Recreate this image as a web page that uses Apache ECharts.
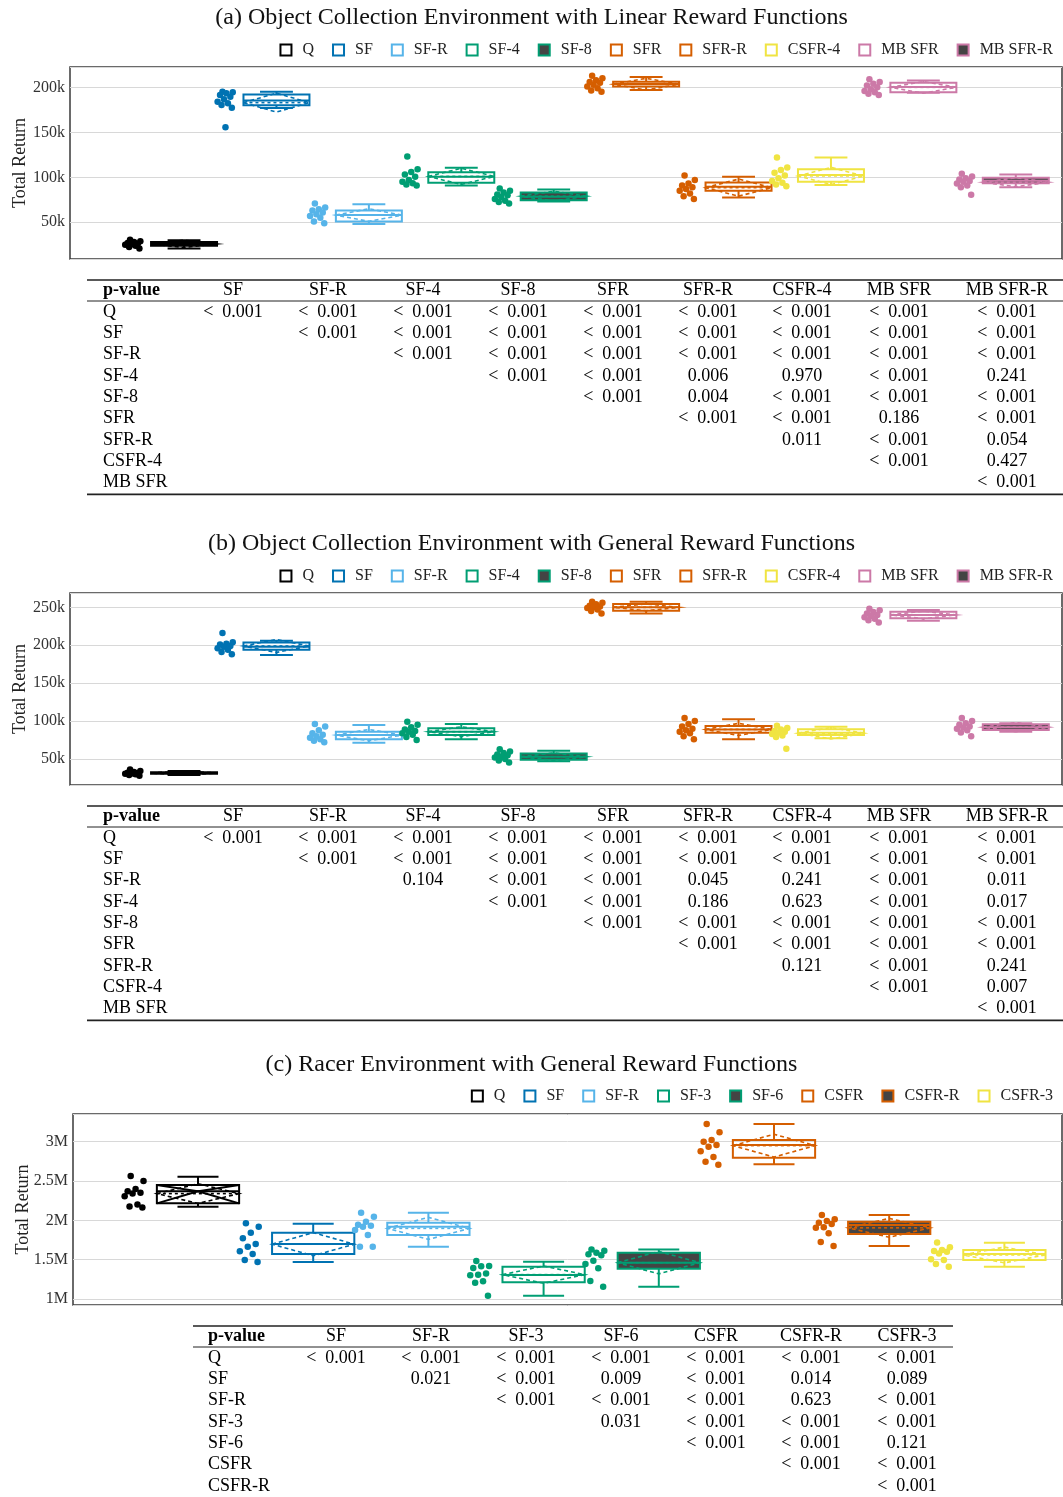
<!DOCTYPE html>
<html><head><meta charset="utf-8">
<script src="https://cdn.jsdelivr.net/npm/echarts@6/dist/echarts.min.js"></script>
<style>html,body{margin:0;padding:0;background:#fff}#c{width:1063px;height:1497px}</style>
</head><body><div id="c"></div>
<script>
// ---------------- DATA ----------------
const titleA = '(a) Object Collection Environment with Linear Reward Functions';
const titleB = '(b) Object Collection Environment with General Reward Functions';
const titleC = '(c) Racer Environment with General Reward Functions';

const catsA = ['Q','SF','SF-R','SF-4','SF-8','SFR','SFR-R','CSFR-4','MB SFR','MB SFR-R'];
const catsB = ['Q','SF','SF-R','SF-4','SF-8','SFR','SFR-R','CSFR-4','MB SFR','MB SFR-R'];
const catsC = ['Q','SF','SF-R','SF-3','SF-6','CSFR','CSFR-R','CSFR-3'];

// box stats: [min, q1, median, q3, max, mean, sd]
const statsA = [
  [21000, 24000, 26000, 28000, 30000, 26000, 4000],
  [177000, 180000, 185500, 192000, 195000, 183000, 10500],
  [48000, 51000, 58000, 63000, 70000, 58000, 7000],
  [91000, 94000, 100500, 105500, 110500, 101000, 9000],
  [73000, 74500, 78500, 83000, 86500, 79000, 5500],
  [197000, 201000, 203700, 206300, 211500, 203500, 6500],
  [77500, 85000, 89500, 94300, 100500, 88500, 9500],
  [91500, 95000, 102500, 109000, 122000, 101500, 9500],
  [194000, 194500, 200500, 205000, 207500, 200000, 6500],
  [89000, 93500, 96300, 99600, 103000, 94500, 5000]
];
const statsB = [
  [29000, 30500, 31500, 32500, 34000, 31500, 2500],
  [187000, 194000, 198000, 203500, 206000, 199000, 8500],
  [71500, 76000, 81500, 86000, 94800, 81500, 7500],
  [76000, 81600, 86000, 90400, 96000, 86000, 6500],
  [47000, 49000, 53000, 57400, 61000, 53000, 5000],
  [242000, 245600, 250000, 254400, 257500, 250000, 4500],
  [76000, 84700, 89000, 93500, 102300, 89000, 8000],
  [77200, 81600, 84700, 89100, 92600, 84000, 7500],
  [232400, 235500, 240000, 244300, 246500, 240000, 5000],
  [86000, 88200, 91700, 95700, 97000, 92000, 6000]
];
const statsC = [
  [2174000, 2216000, 2370000, 2449000, 2555000, 2340000, 125000],
  [1470000, 1572000, 1700000, 1843000, 1958000, 1697000, 147000],
  [1665000, 1814000, 1920000, 1970000, 2098000, 1898000, 140000],
  [1042000, 1212000, 1305000, 1411000, 1475000, 1310000, 110000],
  [1157000, 1386000, 1462000, 1589000, 1631000, 1462000, 142000],
  [2712000, 2797000, 2958000, 3021000, 3225000, 2950000, 145000],
  [1674000, 1826000, 1940000, 1983000, 2068000, 1905000, 120000],
  [1411000, 1496000, 1572000, 1623000, 1716000, 1560000, 100000]
];

// individual runs
const pointsA = [
  [30500, 29000, 28000, 27000, 26500, 25500, 25000, 24000, 22500, 21000],
  [195200, 194400, 193300, 191500, 189600, 186700, 184100, 182200, 180400, 177400, 155600],
  [71000, 66500, 64500, 63000, 61000, 59000, 57000, 55000, 51000, 49000],
  [123000, 109000, 106000, 103000, 100500, 97000, 95000, 93500, 92000, 91000],
  [87500, 85000, 83000, 81000, 80000, 78000, 76000, 74000, 72500, 71000],
  [213000, 210000, 208000, 206000, 205000, 203000, 201000, 199000, 196500, 195000],
  [102000, 97000, 93000, 91000, 89000, 87000, 85000, 82000, 79000, 76000],
  [122000, 111000, 108000, 105000, 102000, 99000, 96000, 94000, 92000, 90000],
  [209000, 206000, 204000, 202000, 200000, 198000, 196000, 194500, 193000, 191500],
  [104000, 101000, 99000, 97500, 96000, 95000, 93000, 91000, 89000, 80500]
];
const pointsB = [
  [36000, 34000, 33000, 32000, 31500, 31000, 30500, 30000, 29000, 28000],
  [216000, 204000, 202000, 201000, 199000, 198000, 196000, 194000, 191000, 188000],
  [96000, 93000, 88000, 84000, 82000, 80000, 78000, 76000, 74000, 72000],
  [99000, 95000, 92000, 89000, 87000, 86000, 84000, 82000, 79000, 75000],
  [63000, 60000, 58000, 56000, 55000, 53000, 52000, 50000, 48000, 45500],
  [257500, 256000, 254000, 252000, 251000, 250000, 249000, 247000, 245000, 242000],
  [104000, 100000, 96000, 93000, 90000, 88000, 86000, 84000, 80000, 76000],
  [94000, 91000, 89000, 87000, 86000, 85000, 83000, 81000, 79000, 63500],
  [248000, 246000, 244000, 242000, 240000, 238500, 237000, 235000, 233000, 230000],
  [104000, 100000, 97000, 95000, 93000, 91500, 90000, 88000, 85000, 80000]
];
const pointsC = [
  [2564000, 2500000, 2400000, 2370000, 2350000, 2340000, 2305000, 2200000, 2175000, 2165000],
  [1962000, 1920000, 1843000, 1771000, 1700000, 1665000, 1606000, 1572000, 1496000, 1470000],
  [2098000, 2047000, 1983000, 1945000, 1930000, 1920000, 1877000, 1814000, 1665000, 1665000],
  [1483000, 1420000, 1418000, 1394000, 1326000, 1310000, 1301000, 1225000, 1208000, 1042000],
  [1631000, 1614000, 1589000, 1570000, 1555000, 1487000, 1445000, 1390000, 1229000, 1157000],
  [3225000, 3119000, 3021000, 3000000, 2958000, 2936000, 2877000, 2805000, 2746000, 2708000],
  [2068000, 2013000, 1992000, 1970000, 1955000, 1911000, 1905000, 1835000, 1725000, 1674000],
  [1720000, 1657000, 1623000, 1610000, 1600000, 1580000, 1504000, 1496000, 1445000, 1411000]
];

// p-value tables
const LT = '<  0.001';
const tColsA = ['SF','SF-R','SF-4','SF-8','SFR','SFR-R','CSFR-4','MB SFR','MB SFR-R'];
const tRowsA = ['Q','SF','SF-R','SF-4','SF-8','SFR','SFR-R','CSFR-4','MB SFR'];
const tValsA = [
  [LT, LT, LT, LT, LT, LT, LT, LT, LT],
  ['', LT, LT, LT, LT, LT, LT, LT, LT],
  ['', '', LT, LT, LT, LT, LT, LT, LT],
  ['', '', '', LT, LT, '0.006', '0.970', LT, '0.241'],
  ['', '', '', '', LT, '0.004', LT, LT, LT],
  ['', '', '', '', '', LT, LT, '0.186', LT],
  ['', '', '', '', '', '', '0.011', LT, '0.054'],
  ['', '', '', '', '', '', '', LT, '0.427'],
  ['', '', '', '', '', '', '', '', LT]
];
const tColsB = ['SF','SF-R','SF-4','SF-8','SFR','SFR-R','CSFR-4','MB SFR','MB SFR-R'];
const tRowsB = ['Q','SF','SF-R','SF-4','SF-8','SFR','SFR-R','CSFR-4','MB SFR'];
const tValsB = [
  [LT, LT, LT, LT, LT, LT, LT, LT, LT],
  ['', LT, LT, LT, LT, LT, LT, LT, LT],
  ['', '', '0.104', LT, LT, '0.045', '0.241', LT, '0.011'],
  ['', '', '', LT, LT, '0.186', '0.623', LT, '0.017'],
  ['', '', '', '', LT, LT, LT, LT, LT],
  ['', '', '', '', '', LT, LT, LT, LT],
  ['', '', '', '', '', '', '0.121', LT, '0.241'],
  ['', '', '', '', '', '', '', LT, '0.007'],
  ['', '', '', '', '', '', '', '', LT]
];
const tColsC = ['SF','SF-R','SF-3','SF-6','CSFR','CSFR-R','CSFR-3'];
const tRowsC = ['Q','SF','SF-R','SF-3','SF-6','CSFR','CSFR-R'];
const tValsC = [
  [LT, LT, LT, LT, LT, LT, LT],
  ['', '0.021', LT, '0.009', LT, '0.014', '0.089'],
  ['', '', LT, LT, LT, '0.623', LT],
  ['', '', '', '0.031', LT, LT, LT],
  ['', '', '', '', LT, LT, '0.121'],
  ['', '', '', '', '', LT, LT],
  ['', '', '', '', '', '', LT]
];

// ---------------- STYLE / LAYOUT ----------------
const SERIF = '"Liberation Serif", "Times New Roman", serif';
const COLORS = {'Q':'#000000','SF':'#0072B2','SF-R':'#56B4E9','SF-4':'#009E73','SF-8':'#009E73',
  'SF-3':'#009E73','SF-6':'#009E73','SFR':'#D55E00','SFR-R':'#D55E00','CSFR':'#D55E00',
  'CSFR-R':'#D55E00','CSFR-4':'#F0E442','CSFR-3':'#F0E442','MB SFR':'#CC79A7','MB SFR-R':'#CC79A7'};
const FILLED = ['SF-8','MB SFR-R','SF-6','CSFR-R'];
const DARK = '#444444';

const panels = [
  {cats: catsA, stats: statsA, pts: pointsA, title: titleA, titleTop: 6, legendTop: 37,
   grid: {left: 70, top: 67, width: 992, height: 192}, x: [-1.234, 9.5], y: [9200, 222600], notched: []},
  {cats: catsB, stats: statsB, pts: pointsB, title: titleB, titleTop: 532, legendTop: 563,
   grid: {left: 70, top: 593, width: 992, height: 192}, x: [-1.234, 9.5], y: [15700, 268900], notched: []},
  {cats: catsC, stats: statsC, pts: pointsC, title: titleC, titleTop: 1053, legendTop: 1083,
   grid: {left: 73, top: 1114, width: 989, height: 191}, x: [-1.085, 7.5], y: [924000, 3352000], notched: ['Q']}
];
const tables = [
  {cols: tColsA, rows: tRowsA, vals: tValsA, top: 280, x0: 87, x1: 1063, labelX: 103,
   colX: [233,328,423,518,613,708,802,899,1007], bottom: true},
  {cols: tColsB, rows: tRowsB, vals: tValsB, top: 806, x0: 87, x1: 1063, labelX: 103,
   colX: [233,328,423,518,613,708,802,899,1007], bottom: true},
  {cols: tColsC, rows: tRowsC, vals: tValsC, top: 1326, x0: 193, x1: 953, labelX: 208,
   colX: [336,431,526,621,716,811,907], bottom: false}
];

const HW = 0.357, CW = 0.178, PT_OFF = -0.55;
function jit(k) { const g = (k * 0.6180339887 + 0.31) % 1; return (g * 2 - 1) * 0.09; }

function makeBoxRenderer(color, fill, notched) {
  return function (params, api) {
    const x = api.value(0);
    const mn = api.value(1), q1 = api.value(2), md = api.value(3), q3 = api.value(4),
          mx = api.value(5), mean = api.value(6), sd = api.value(7);
    const P = (xv, yv) => api.coord([xv, yv]);
    const lw = 2;
    const ch = [];
    const line = (a, b, dash, w) => ({type: 'line', shape: {x1: a[0], y1: a[1], x2: b[0], y2: b[1]},
      style: {stroke: color, lineWidth: w || lw, lineDash: dash || null}});
    ch.push(line(P(x, q3), P(x, mx)));
    ch.push(line(P(x, q1), P(x, mn)));
    ch.push(line(P(x - CW, mx), P(x + CW, mx)));
    ch.push(line(P(x - CW, mn), P(x + CW, mn)));
    const bl = P(x - HW, q1), tr = P(x + HW, q3);
    ch.push({type: 'rect', shape: {x: bl[0], y: tr[1], width: tr[0] - bl[0], height: bl[1] - tr[1]},
      style: {fill: fill, stroke: color, lineWidth: lw}});
    if (notched) {
      ch.push({type: 'polyline', shape: {points: [P(x - HW, q3), P(x, md), P(x - HW, q1)]},
        style: {stroke: color, lineWidth: lw, fill: null}});
      ch.push({type: 'polyline', shape: {points: [P(x + HW, q3), P(x, md), P(x + HW, q1)]},
        style: {stroke: color, lineWidth: lw, fill: null}});
    }
    ch.push(line(P(x - HW, md), P(x + HW, md)));
    ch.push(line(P(x - HW, mean), P(x + HW, mean), [3, 3], 1.6));
    ch.push({type: 'polygon', shape: {points: [P(x - HW, mean), P(x, mean + sd), P(x + HW, mean), P(x, mean - sd)]},
      style: {fill: null, stroke: color, lineWidth: 1.6, lineDash: [4, 3]}});
    return {type: 'group', children: ch};
  };
}

function fmt(v) {
  if (v >= 1e6) return (v / 1e6) + 'M';
  return (v / 1e3) + 'k';
}

const grids = [], xAxes = [], yAxes = [], series = [], legends = [], titles = [];
panels.forEach((p, pi) => {
  grids.push(Object.assign({show: true, borderColor: '#3a3a3a', borderWidth: 1.5, backgroundColor: '#fff',
    containLabel: false, outerBoundsMode: 'none'}, p.grid));
  xAxes.push({type: 'value', gridIndex: pi, min: p.x[0], max: p.x[1], show: false, splitLine: {show: false}});
  yAxes.push({type: 'value', gridIndex: pi, min: p.y[0], max: p.y[1],
    name: 'Total Return', nameLocation: 'middle', nameGap: 41, nameRotate: 90, nameMoveOverlap: false,
    nameTextStyle: {fontFamily: SERIF, fontSize: 18, color: '#222'},
    axisLine: {show: false}, axisTick: {show: false},
    axisLabel: {fontFamily: SERIF, fontSize: 16, color: '#333', margin: 5, showMinLabel: false, showMaxLabel: false,
      formatter: v => ((p.y[0] < 1e6 ? v % 50000 === 0 : v % 500000 === 0) ? fmt(v) : '')},
    splitLine: {show: true, lineStyle: {color: '#d8d8d8', width: 1}}});
  titles.push({text: p.title, left: 'center', top: p.titleTop, padding: 0,
    textStyle: {fontFamily: SERIF, fontSize: 24, fontWeight: 'normal', color: '#111'}});
  legends.push({top: p.legendTop, right: 5, icon: 'rect', itemWidth: 11, itemHeight: 11, itemGap: 18,
    selectedMode: false,
    textStyle: {fontFamily: SERIF, fontSize: 16, color: '#222', padding: [0, 0, 0, 6]},
    data: p.cats.map(c => ({name: c, itemStyle: {color: FILLED.includes(c) ? DARK : '#fff',
      borderColor: COLORS[c], borderWidth: 2}}))});
  p.cats.forEach((c, i) => {
    const color = COLORS[c];
    const fill = FILLED.includes(c) ? DARK : 'rgba(255,255,255,0)';
    series.push({type: 'custom', name: c, xAxisIndex: pi, yAxisIndex: pi,
      itemStyle: {color: color},
      renderItem: makeBoxRenderer(color, fill, p.notched.includes(c)),
      encode: {x: 0, y: [1, 2, 3, 4, 5]},
      data: [[i].concat(p.stats[i])], z: 2, silent: true});
    series.push({type: 'scatter', name: c, xAxisIndex: pi, yAxisIndex: pi,
      symbolSize: 6.5, itemStyle: {color: color, opacity: 1},
      data: p.pts[i].map((v, k) => [i + PT_OFF + jit(k), v]), z: 3, silent: true});
  });
});

// tables as graphic text
const graphics = [];
const STEP = 21.3;
tables.forEach(t => {
  graphics.push({type: 'line', shape: {x1: t.x0, y1: t.top, x2: t.x1, y2: t.top}, style: {stroke: '#222', lineWidth: 1.6}});
  const hy = t.top + 10;
  graphics.push({type: 'text', x: t.labelX, y: hy, style: {text: 'p-value', fontFamily: SERIF, fontSize: 18,
    fontWeight: 'bold', fill: '#000', textAlign: 'left', textVerticalAlign: 'middle'}});
  t.cols.forEach((c, j) => graphics.push({type: 'text', x: t.colX[j], y: hy, style: {text: c, fontFamily: SERIF,
    fontSize: 18, fill: '#000', textAlign: 'center', textVerticalAlign: 'middle'}}));
  graphics.push({type: 'line', shape: {x1: t.x0, y1: t.top + 21, x2: t.x1, y2: t.top + 21}, style: {stroke: '#222', lineWidth: 1}});
  t.rows.forEach((r, ri) => {
    const ry = t.top + 32 + ri * STEP;
    graphics.push({type: 'text', x: t.labelX, y: ry, style: {text: r, fontFamily: SERIF, fontSize: 18,
      fill: '#000', textAlign: 'left', textVerticalAlign: 'middle'}});
    t.vals[ri].forEach((v, j) => { if (v) graphics.push({type: 'text', x: t.colX[j], y: ry, style: {text: v,
      fontFamily: SERIF, fontSize: 18, fill: '#000', textAlign: 'center', textVerticalAlign: 'middle'}}); });
  });
  if (t.bottom) {
    const by = t.top + 32 + (t.rows.length - 1) * STEP + 12;
    graphics.push({type: 'line', shape: {x1: t.x0, y1: by, x2: t.x1, y2: by}, style: {stroke: '#222', lineWidth: 1.6}});
  }
});

const chart = echarts.init(document.getElementById('c'), null, {width: 1063, height: 1497});
chart.setOption({
  backgroundColor: '#ffffff',
  animation: false,
  title: titles,
  legend: legends,
  grid: grids,
  xAxis: xAxes,
  yAxis: yAxes,
  series: series,
  graphic: {elements: graphics}
});
</script></body></html>
